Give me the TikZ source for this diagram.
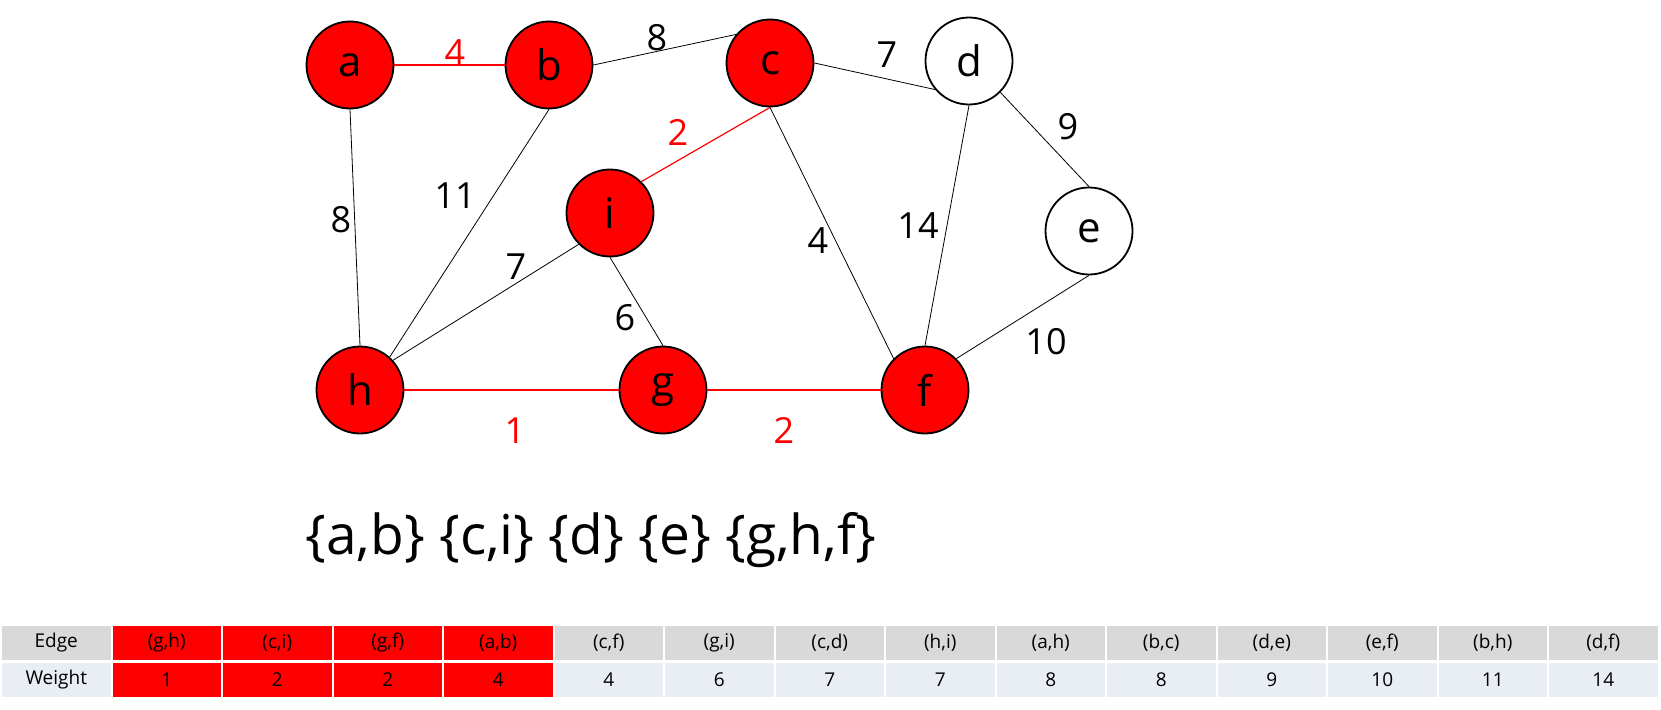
\documentclass[tikz,border=0pt]{standalone}
\usepackage{fontspec}
\setmainfont{Open Sans}
\definecolor{hdrgray}{HTML}{D9D9D9}
\definecolor{rowblue}{HTML}{E9EDF4}
\begin{document}
\begin{tikzpicture}[x=1pt,y=-1pt,
  vtx/.style={circle,draw=black,line width=1.8pt,minimum size=87pt,inner sep=0pt,font=\fontsize{42}{50}\selectfont},
  inmst/.style={vtx,fill=red},
  outmst/.style={vtx,fill=white},
  edg/.style={black,line width=0.8pt},
  redg/.style={red,line width=1.2pt},
  wt/.style={font=\fontsize{36}{43}\selectfont,inner sep=0pt},
  rwt/.style={wt,text=red},
  cell/.style={draw=white,line width=2pt,minimum width=110.5pt,minimum height=36pt,inner sep=0pt,font=\fontsize{19}{23}\selectfont},
]
\useasboundingbox (0,0) rectangle (1661,709);
% vertices
\node[inmst] (a) at (350,65) {a};
\node[inmst] (b) at (549,65) {b};
\node[inmst] (c) at (770,63) {c};
\node[outmst] (d) at (969,61) {d};
\node[outmst] (e) at (1089,231) {e};
\node[inmst] (i) at (610,213) {i};
\node[inmst] (h) at (360,390) {h};
\node[inmst] (g) at (663,390) {g};
\node[inmst] (f) at (925,390) {f};
% edges
\draw[redg] (a.east) -- (b.west);
\draw[edg] (b.east) -- (c.140);
\draw[edg] (c.east) -- (d.220);
\draw[edg] (d.-45) -- (e.north);
\draw[redg] (c.south) -- (i.45);
\draw[edg] (a.south) -- (h.north);
\draw[edg] (b.south) -- (h.48);
\draw[edg] (h.42) -- (i.225);
\draw[edg] (i.south) -- (g.north);
\draw[edg] (c.south) -- (f.135);
\draw[edg] (d.south) -- (f.north);
\draw[edg] (e.south) -- (f.45);
\draw[redg] (h.east) -- (g.west);
\draw[redg] (g.east) -- (f.west);
% weights
\node[rwt] (wab) at (455,53) {4};
\node[wt] (wbc) at (657,38) {8};
\node[wt] (wcd) at (887,55) {7};
\node[wt] (wde) at (1068,127) {9};
\node[rwt] (wci) at (678,132) {2};
\node[wt] (wbh) at (455,196) {11};
\node[wt] (wah) at (341,220) {8};
\node[wt] (wdf) at (918,226) {14};
\node[wt] (wcf) at (818,241) {4};
\node[wt] (whi) at (516,267) {7};
\node[wt] (wig) at (625,318) {6};
\node[wt] (wef) at (1046,342) {10};
\node[rwt] (whg) at (515,431) {1};
\node[rwt] (wgf) at (784,430) {2};
% sets
\node[font=\fontsize{55}{66}\selectfont] (sets) at (591,540) {\{a,b\} \{c,i\} \{d\} \{e\} \{g,h,f\}};
% table
\node[cell,fill=hdrgray] (t0) at (56.25,643) {Edge};
\node[cell,fill=rowblue] (u0) at (56.25,679.5) {Weight};
\foreach \e/\w [count=\k] in {{(g,h)}/1,{(c,i)}/2,{(g,f)}/2,{(a,b)}/4}{
  \node[cell,fill=red] (t\k) at (56.25+110.5*\k,643) {\e};
  \node[cell,fill=red] (u\k) at (56.25+110.5*\k,679.5) {\w};
}
\foreach \e/\w [count=\k from 5] in {{(c,f)}/4,{(g,i)}/6,{(c,d)}/7,{(h,i)}/7,{(a,h)}/8,{(b,c)}/8,{(d,e)}/9,{(e,f)}/10,{(b,h)}/11,{(d,f)}/14}{
  \node[cell,fill=hdrgray] (t\k) at (56.25+110.5*\k,643) {\e};
  \node[cell,fill=rowblue] (u\k) at (56.25+110.5*\k,679.5) {\w};
}
\end{tikzpicture}
\end{document}
